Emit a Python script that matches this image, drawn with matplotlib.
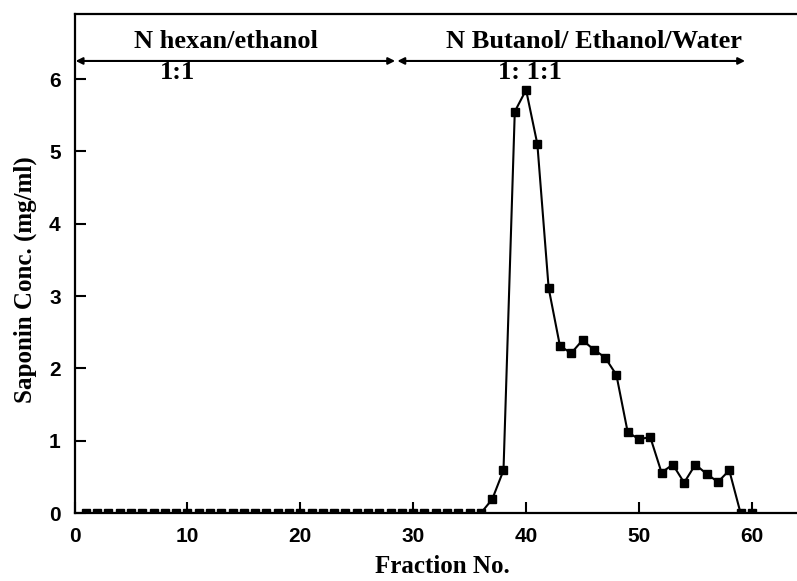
import matplotlib
matplotlib.use('Agg')
import matplotlib.pyplot as plt

# Saponin concentration per collected fraction
fractions = list(range(1, 61))
saponin = [0.0] * 36 + [0.19, 0.59, 5.55, 5.85, 5.10, 3.11,
                        2.31, 2.21, 2.39, 2.26, 2.15, 1.91,
                        1.12, 1.02, 1.05, 0.56, 0.67, 0.42,
                        0.67, 0.54, 0.43, 0.59, 0.0, 0.0]
xticks = [0, 10, 20, 30, 40, 50, 60]
yticks = [0, 1, 2, 3, 4, 5, 6]

serif = 'Liberation Serif'
sans = 'Liberation Sans'

fig = plt.figure(figsize=(7.97, 5.81), dpi=100)
ax = fig.add_axes([0.0935, 0.117, 0.9065, 0.859])

ax.plot(fractions, saponin, color='black', lw=1.5, marker='s', ms=6,
        zorder=3)

ax.set_xlim(0, 64)
ax.set_ylim(0, 6.9)
ax.set_xticks(xticks)
ax.set_yticks(yticks)
ax.spines['right'].set_visible(False)
for s in ['left', 'bottom', 'top']:
    ax.spines[s].set_linewidth(1.6)
ax.tick_params(direction='in', length=8, width=1.5, pad=10)
for lbl in ax.get_xticklabels() + ax.get_yticklabels():
    lbl.set_fontfamily(sans)
    lbl.set_fontweight('bold')
    lbl.set_fontsize(15)

ax.set_xlabel('Fraction No.', fontfamily=serif, fontweight='bold',
              fontsize=18, va='center')
ax.xaxis.set_label_coords(0.509, -0.108)
ax.set_ylabel('Saponin Conc. (mg/ml)', fontfamily=serif, fontweight='bold',
              fontsize=18, va='center')
ax.yaxis.set_label_coords(-0.0685, 0.467)

# solvent system arrows
arrow = dict(arrowstyle='<|-|>', color='black', lw=1.5, mutation_scale=10,
             shrinkA=0, shrinkB=0)
ax.annotate('', xy=(0.1, 6.25), xytext=(28.4, 6.25), arrowprops=arrow)
ax.annotate('', xy=(28.6, 6.25), xytext=(59.4, 6.25), arrowprops=arrow)

tkw = dict(fontfamily=serif, fontweight='bold', fontsize=19,
           ha='center', va='center')
ax.text(13.4, 6.52, 'N hexan/ethanol', **tkw)
ax.text(9.1, 6.09, '1:1', **tkw)
ax.text(46.0, 6.52, 'N Butanol/ Ethanol/Water', **tkw)
ax.text(40.3, 6.09, '1: 1:1', **tkw)

fig.savefig('out.png', dpi=100)
